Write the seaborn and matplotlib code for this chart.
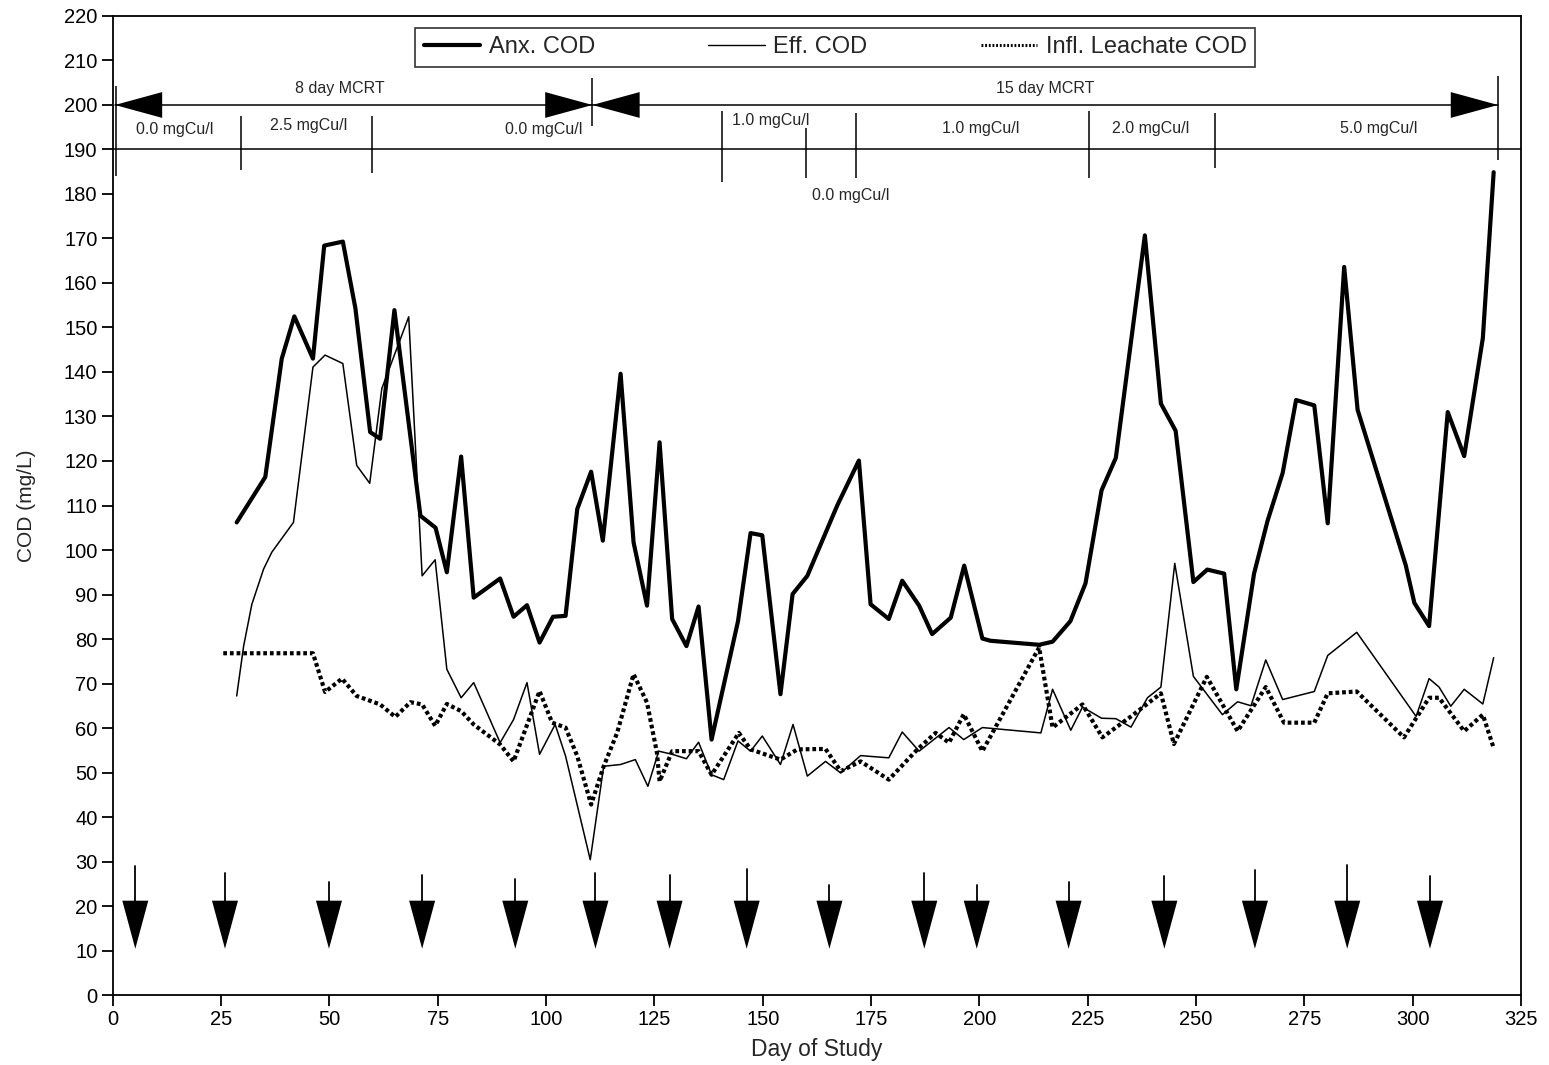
import matplotlib
matplotlib.use("Agg")
import matplotlib.pyplot as plt
import seaborn as sns
import pandas as pd
from matplotlib.lines import Line2D

# ---------------- data ----------------
anx_day = [28.6, 35.2, 39.0, 41.9, 46.2, 48.8, 53.1, 56.0, 59.4, 61.7, 65.0, 71.0, 74.5, 77.1, 80.4,
           83.3, 89.4, 92.5, 95.6, 98.5, 101.6, 104.5, 107.2, 110.4, 113.1, 117.2, 120.2, 123.3, 126.2,
           129.1, 132.4, 135.2, 138.2, 144.3, 147.2, 149.9, 154.1, 156.9, 160.3, 167.2, 172.2, 174.9,
           179.1, 182.2, 186.1, 189.1, 193.4, 196.5, 200.7, 202.6, 213.8, 216.9, 221.0, 224.5, 228.2,
           231.5, 238.2, 241.9, 245.3, 249.4, 252.6, 256.5, 259.3, 263.4, 266.5, 270.0, 273.1, 277.3,
           280.4, 284.2, 287.3, 298.4, 300.4, 303.8, 308.1, 311.9, 316.2, 318.7]
anx_cod = [106.2, 116.4, 143.0, 152.5, 143.0, 168.4, 169.3, 154.3, 126.5, 125.0, 153.9, 107.7, 105.0,
           95.0, 121.0, 89.3, 93.6, 85.0, 87.6, 79.2, 85.0, 85.2, 109.2, 117.6, 102.1, 139.6, 101.7,
           87.5, 124.2, 84.5, 78.4, 87.3, 57.4, 84.0, 103.8, 103.3, 67.6, 90.1, 94.2, 110.0, 120.1,
           87.8, 84.5, 93.1, 87.5, 81.1, 84.8, 96.5, 80.1, 79.6, 78.7, 79.4, 84.0, 92.5, 113.4, 120.7,
           170.7, 132.9, 126.8, 92.8, 95.6, 94.7, 68.7, 94.7, 106.5, 117.3, 133.7, 132.5, 106.0, 163.6,
           131.5, 96.6, 88.1, 82.9, 131.0, 121.1, 147.6, 184.9]

eff_day = [28.6, 30.2, 32.1, 34.8, 36.7, 41.7, 46.2, 49.0, 53.1, 56.3, 59.3, 62.1, 68.3, 71.4, 74.4,
           77.1, 80.4, 83.3, 89.4, 92.5, 95.6, 98.5, 102.1, 104.5, 110.2, 113.3, 117.2, 120.6, 123.5,
           126.0, 129.1, 132.4, 135.2, 138.2, 141.0, 144.3, 147.2, 149.9, 154.1, 157.0, 160.3, 164.5,
           168.0, 172.6, 179.1, 182.2, 186.1, 193.0, 196.4, 200.7, 214.2, 216.9, 221.1, 223.8, 228.2,
           231.5, 235.0, 238.8, 241.9, 245.1, 249.4, 256.1, 259.6, 262.7, 266.1, 270.0, 277.3, 280.4,
           287.1, 300.8, 303.8, 306.1, 308.8, 311.9, 316.2, 318.7]
eff_cod = [67.2, 78.4, 87.8, 95.7, 99.5, 106.2, 141.1, 143.8, 141.9, 119.0, 115.0, 136.3, 152.4, 94.2,
           97.8, 73.2, 66.8, 70.2, 56.7, 61.9, 70.2, 54.1, 60.8, 53.7, 30.4, 51.4, 51.8, 52.9, 46.9,
           54.8, 54.1, 53.1, 56.8, 49.5, 48.4, 57.1, 54.8, 58.2, 51.8, 60.8, 49.2, 52.5, 49.9, 53.8,
           53.3, 59.1, 54.8, 60.1, 57.4, 60.1, 58.9, 68.7, 59.5, 64.7, 62.2, 62.1, 60.2, 66.8, 69.2,
           97.0, 71.6, 63.0, 65.9, 65.0, 75.3, 66.4, 68.2, 76.3, 81.5, 62.6, 71.1, 69.2, 64.9, 68.7,
           65.4, 75.8]

infl_day = [25.5, 46.2, 49.0, 52.9, 56.3, 61.7, 65.2, 68.7, 71.4, 74.4, 77.1, 80.4, 83.3, 89.4, 92.5,
            98.5, 101.4, 104.5, 107.2, 110.4, 113.3, 116.4, 120.2, 123.3, 125.6, 126.2, 129.1, 135.2,
            138.2, 144.5, 147.2, 154.1, 158.0, 164.5, 168.0, 172.6, 179.1, 185.7, 189.9, 193.0, 196.4,
            200.7, 213.8, 216.9, 223.8, 228.4, 235.0, 241.9, 244.9, 252.5, 259.6, 266.1, 270.3, 277.3,
            280.4, 287.1, 298.0, 303.8, 306.1, 311.9, 316.2, 318.7]
infl_cod = [76.8, 76.8, 68.1, 71.1, 67.2, 65.3, 62.5, 65.8, 65.3, 60.5, 65.4, 63.8, 60.8, 56.3, 52.5,
            68.3, 61.2, 60.1, 53.7, 42.8, 51.4, 58.9, 72.1, 65.7, 54.4, 48.0, 54.8, 54.8, 49.5, 58.9,
            55.2, 52.9, 55.2, 55.3, 50.3, 52.5, 48.4, 55.2, 58.9, 56.7, 63.1, 54.8, 78.1, 60.1, 65.3,
            57.9, 62.6, 67.8, 56.4, 71.5, 59.3, 69.2, 61.2, 61.2, 67.8, 68.2, 57.9, 66.8, 66.8, 59.3,
            63.0, 55.5]

series_names = ["Anx. COD", "Eff. COD", "Infl. Leachate COD"]

x_ticks = list(range(0, 326, 25))
y_ticks = list(range(0, 221, 10))

# MCRT periods (day start, day end, label)
mcrt_labels = ["8 day MCRT", "15 day MCRT"]
mcrt_start = [0.5, 110.7]
mcrt_end = [110.7, 319.7]
mcrt_label_day = [52.5, 215.3]

# copper dose segment labels
cu_labels = ["0.0 mgCu/l", "2.5 mgCu/l", "0.0 mgCu/l", "1.0 mgCu/l", "0.0 mgCu/l",
             "1.0 mgCu/l", "2.0 mgCu/l", "5.0 mgCu/l"]
cu_label_day = [14.4, 45.1, 99.4, 151.8, 170.3, 200.3, 239.6, 292.2]
cu_label_y = [194.6, 195.3, 194.4, 196.6, 179.7, 194.8, 194.8, 194.8]

# segment divider ticks
div_day = [0.8, 29.6, 59.9, 110.7, 140.5, 160.0, 171.5, 225.2, 254.3, 319.7]
div_low = [184.0, 185.4, 184.7, 195.3, 182.7, 183.6, 183.6, 183.6, 185.8, 187.6]
div_high = [204.3, 197.5, 197.5, 206.0, 198.6, 194.8, 198.2, 198.6, 198.2, 206.5]

# event arrows along the bottom
event_day = [5.2, 25.9, 49.9, 71.4, 92.9, 111.4, 128.5, 146.3, 165.4, 187.3, 199.4, 220.6,
             242.7, 263.6, 284.9, 304.0]
event_stem = [7.8, 6.3, 4.3, 5.8, 4.8, 6.3, 5.8, 7.1, 3.6, 6.2, 3.6, 4.2, 5.5, 7.0, 8.0, 5.5]

# ---------------- drawing ----------------
sns.set_style("ticks")
plt.rcParams["font.family"] = ["Liberation Sans", "DejaVu Sans"]

fig = plt.figure(figsize=(15.49, 10.65), dpi=100)
ax = fig.add_axes([0.0728, 0.0657, 0.9091, 0.9193])

sns.lineplot(x=anx_day, y=anx_cod, ax=ax, color="black", linewidth=3.0,
             estimator=None, sort=False, legend=False)
sns.lineplot(x=eff_day, y=eff_cod, ax=ax, color="black", linewidth=1.1,
             estimator=None, sort=False, legend=False)
sns.lineplot(x=infl_day, y=infl_cod, ax=ax, color="black", linewidth=3.0,
             linestyle=(0, (0.9, 0.7)), estimator=None, sort=False, legend=False)

ax.set_xlim(0, 325)
ax.set_ylim(0, 220)
ax.set_xticks(x_ticks)
ax.set_yticks(y_ticks)
ax.tick_params(axis="both", direction="out", length=8, width=1.3, labelsize=14.5,
               colors="black", pad=3)
for s in ax.spines.values():
    s.set_visible(True)
    s.set_linewidth(1.3)
    s.set_color("black")
ax.set_xlabel("Day of Study", fontsize=16.5, labelpad=6)
ax.set_ylabel("COD (mg/L)", fontsize=15, labelpad=20)

# MCRT arrows
head_len = 10.9
head_half = 2.9
for s, e, lab, lx in zip(mcrt_start, mcrt_end, mcrt_labels, mcrt_label_day):
    ax.plot([s, e], [200, 200], color="black", lw=1.1)
    ax.fill([s, s + head_len, s + head_len], [200, 200 + head_half, 200 - head_half],
            color="black", lw=0)
    ax.fill([e, e - head_len, e - head_len], [200, 200 + head_half, 200 - head_half],
            color="black", lw=0)
    ax.text(lx, 203.8, lab, ha="center", va="center", fontsize=11.5)

ax.axhline(190, color="black", lw=1.1)
ax.vlines(div_day, div_low, div_high, color="black", lw=1.1)
for lab, d, y in zip(cu_labels, cu_label_day, cu_label_y):
    ax.text(d, y, lab, ha="center", va="center", fontsize=11.5)

# bottom event arrows
tri_top = 21.2
tri_tip = 10.4
tri_half = 3.0
for d, st in zip(event_day, event_stem):
    ax.plot([d, d], [tri_top, tri_top + st], color="black", lw=1.3)
    ax.fill([d - tri_half, d + tri_half, d], [tri_top, tri_top, tri_tip], color="black", lw=0)

# legend
handles = [Line2D([], [], color="black", lw=3.0),
           Line2D([], [], color="black", lw=1.0),
           Line2D([], [], color="black", lw=2.2, linestyle=(0, (0.6, 0.6)))]
leg = ax.legend(handles, series_names, loc="center", bbox_to_anchor=(0.513, 0.968), ncol=3,
                fontsize=17, frameon=True, fancybox=False, edgecolor="black",
                handlelength=2.4, handletextpad=0.35, columnspacing=4.8,
                borderpad=0.35, borderaxespad=0)
leg.get_frame().set_linewidth(1.2)

fig.savefig("out.png", dpi=100, facecolor="white")
